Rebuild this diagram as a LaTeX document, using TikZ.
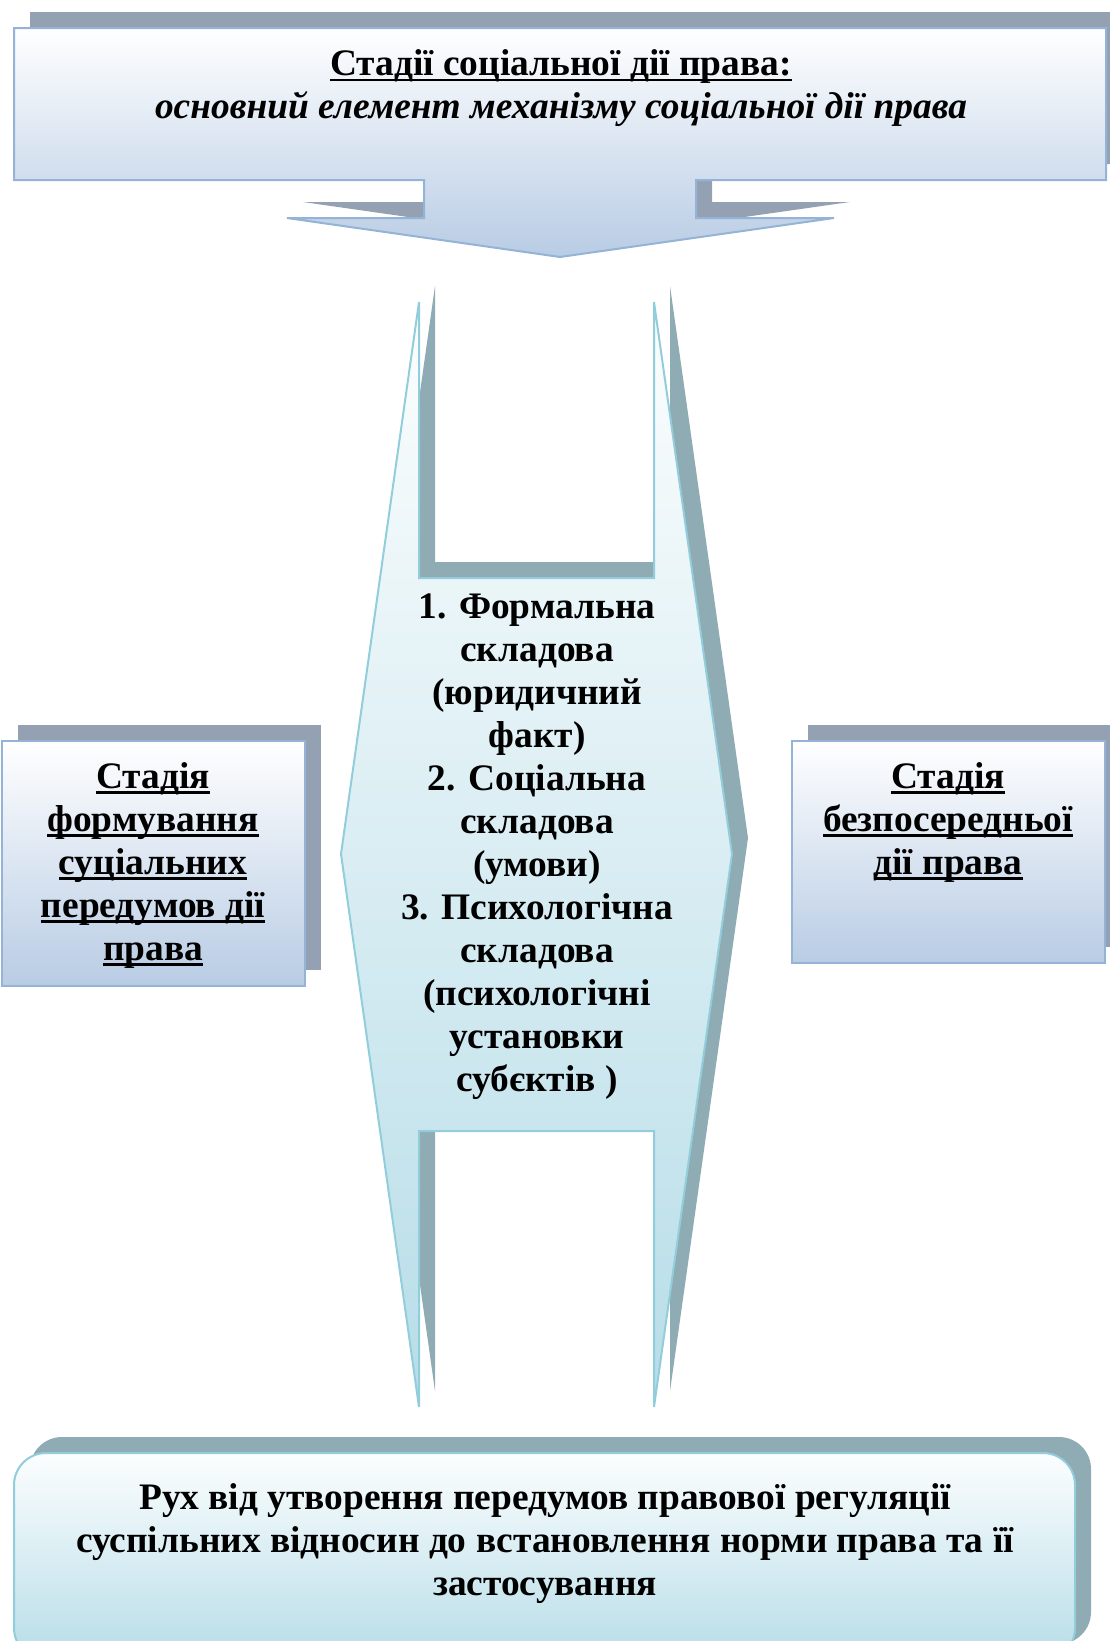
\documentclass[tikz,border=0pt]{standalone}
\usepackage{fontspec}
\setmainfont{Liberation Serif}
\usepackage{xcolor}

\newcommand{\undl}[1]{\leavevmode\setbox0=\hbox{#1}\rlap{\rule[-6pt]{\wd0}{2.6pt}}\box0}

\definecolor{boxline}{RGB}{149,179,215}
\definecolor{boxfill}{RGB}{184,204,228}
\definecolor{boxshade}{RGB}{148,161,178}
\definecolor{tealline}{RGB}{146,205,220}
\definecolor{tealfill}{RGB}{183,221,232}
\definecolor{tealshade}{RGB}{143,171,179}

\tikzset{
  bluebox/.style={draw=boxline, line width=2pt, top color=white, bottom color=boxfill},
  tealbox/.style={draw=tealline, line width=2pt, top color=white!96!tealfill, bottom color=tealfill},
  txt/.style={font=\bfseries\fontsize{37.4}{43}\selectfont, align=center, inner sep=0pt}
}

\begin{document}
\begin{tikzpicture}[x=1pt,y=-1pt]
\useasboundingbox (0,0) rectangle (1110,1641);
\clip (0,0) rectangle (1110,1641);

% top callout
\fill[boxshade, xshift=16pt, yshift=16pt] (14,28) -- (1106,28) -- (1106,180) -- (696,180) -- (696,218) -- (834,218) -- (560,257) -- (287,218) -- (424,218) -- (424,180) -- (14,180) -- cycle;
\draw[bluebox] (14,28) -- (1106,28) -- (1106,180) -- (696,180) -- (696,218) -- (834,218) -- (560,257) -- (287,218) -- (424,218) -- (424,180) -- (14,180) -- cycle;
\node[txt] (title) at (561,88) {\undl{Стадії соціальної дії права:}\\ \itshape основний елемент механізму соціальної дії права};

% side boxes
\fill[boxshade] (18,725) rectangle (321,970);
\draw[bluebox] (2,741) rectangle (305,986);
\node[txt] (left) at (153,865) {\undl{Стадія}\\ \undl{формування}\\ \undl{суціальних}\\ \undl{передумов дії}\\ \undl{права}};

\fill[boxshade] (808,725) rectangle (1121,947);
\draw[bluebox] (792,741) rectangle (1105,963);
\node[txt] (right) at (948,822) {\undl{Стадія}\\ \undl{безпосередньої}\\ \undl{дії права}};

% central shape
\fill[tealshade, xshift=16pt, yshift=16pt] (419,302) -- (341,854) -- (419,1407) -- (419,1131) -- (654,1131) -- (654,1407) -- (732,854) -- (654,302) -- (654,578) -- (419,578) -- cycle;
\draw[tealbox] (419,302) -- (341,854) -- (419,1407) -- (419,1131) -- (654,1131) -- (654,1407) -- (732,854) -- (654,302) -- (654,578) -- (419,578) -- cycle;
\node[txt] (parts) at (537,847) {1. Формальна\\ складова\\ (юридичний\\ факт)\\ 2. Соціальна\\ складова\\ (умови)\\ 3. Психологічна\\ складова\\ (психологічні\\ установки\\ субєктів )};

% bottom box
\fill[tealshade, rounded corners=32pt] (30,1437) rectangle (1091,1644);
\draw[tealbox, rounded corners=32pt] (14,1453) rectangle (1075,1660);
\node[txt] (result) at (545,1544) {Рух від утворення передумов правової регуляції\\ суспільних відносин до встановлення норми права та її\\ застосування};
\end{tikzpicture}
\end{document}
